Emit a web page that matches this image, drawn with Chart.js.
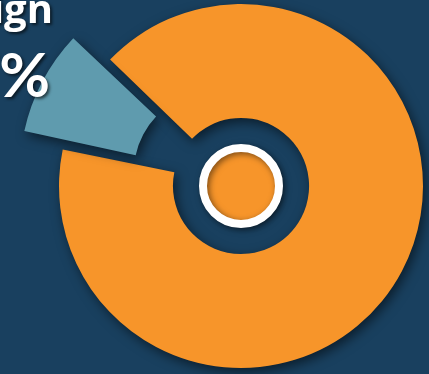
<!DOCTYPE html>
<html>
<head>
<meta charset="utf-8">
<script src="https://cdn.jsdelivr.net/npm/chart.js@4"></script>
<style>
  html, body { margin: 0; padding: 0; background: #19405f; }
  canvas { display: block; }
</style>
</head>
<body>
<canvas id="chart" width="429" height="374"></canvas>
<script>
// data
const labels = ['Domestic', 'Foreign'];
const shares = [91, 9];
const calloutLines = ['Foreign', '7%'];

const bgColor = '#19405f';
const sliceColors = ['#f7952a', '#5f9bae'];
const sliceOffsets = [0, 116];

// soft drop shadow under the slices, then the white ring in the middle
const decorations = {
    id: 'decorations',
    beforeDraw(chart) {
        const ctx = chart.ctx;
        ctx.save();
        ctx.fillStyle = bgColor;
        ctx.fillRect(0, 0, chart.width, chart.height);
        ctx.restore();
    },
    beforeDatasetsDraw(chart) {
        const ctx = chart.ctx;
        ctx.save();
        ctx.shadowColor = 'rgba(0, 0, 0, 0.55)';
        ctx.shadowBlur = 12;
        ctx.shadowOffsetX = 3;
        ctx.shadowOffsetY = 4;
    },
    afterDatasetsDraw(chart) {
        const ctx = chart.ctx;
        ctx.restore();

        const arc = chart.getDatasetMeta(0).data[0];
        ctx.save();
        ctx.shadowColor = 'rgba(0, 0, 0, 0.5)';
        ctx.shadowBlur = 6;
        ctx.shadowOffsetX = 2;
        ctx.shadowOffsetY = 2;
        ctx.beginPath();
        ctx.arc(arc.x, arc.y, 38, 0, Math.PI * 2);
        ctx.fillStyle = sliceColors[0];
        ctx.fill();
        ctx.lineWidth = 8;
        ctx.strokeStyle = '#ffffff';
        ctx.stroke();
        ctx.restore();
    },
    afterDraw(chart) {
        const ctx = chart.ctx;
        ctx.save();
        ctx.fillStyle = '#ffffff';
        ctx.textAlign = 'right';
        ctx.textBaseline = 'alphabetic';
        ctx.shadowColor = 'rgba(0, 0, 0, 0.6)';
        ctx.shadowBlur = 3;
        ctx.shadowOffsetX = 2;
        ctx.shadowOffsetY = 2;
        ctx.font = 'bold 40px "Open Sans"';
        ctx.fillText(calloutLines[0], 53, 23);
        ctx.font = 'bold 62px Lato';
        ctx.fillText(calloutLines[1], 50, 97);
        ctx.restore();
    }
};

new Chart(document.getElementById('chart'), {
    type: 'doughnut',
    data: {
        labels: labels,
        datasets: [{
            data: shares,
            backgroundColor: sliceColors,
            borderWidth: 0,
            offset: sliceOffsets
        }]
    },
    options: {
        responsive: false,
        animation: false,
        rotation: -46,
        radius: 182,
        cutout: '37.4%',
        layout: { padding: { left: 53, right: 0, top: 0, bottom: 2 } },
        plugins: {
            legend: { display: false },
            tooltip: { enabled: false }
        }
    },
    plugins: [decorations]
});
</script>
</body>
</html>
